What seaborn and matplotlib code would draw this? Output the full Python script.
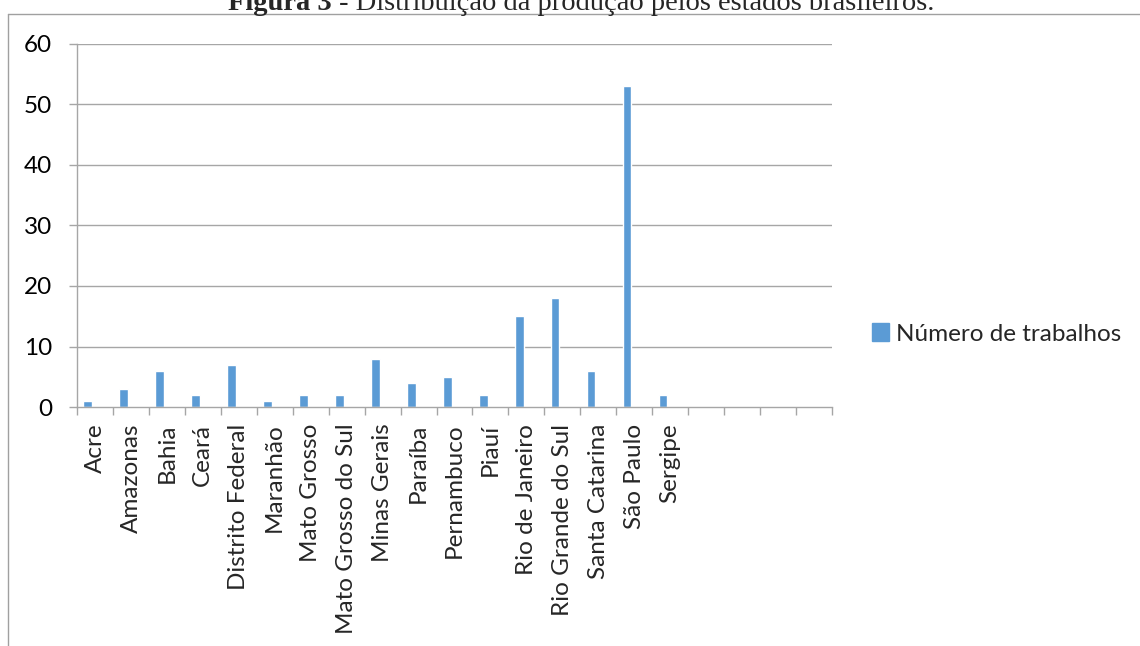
import matplotlib
matplotlib.use('Agg')
import matplotlib.pyplot as plt
import seaborn as sns
import pandas as pd
from matplotlib.lines import Line2D

sns.set_theme(style="white")
plt.rcParams['font.family'] = ['Lato', 'DejaVu Sans']

# data
estados = ['Acre', 'Amazonas', 'Bahia', 'Ceará', 'Distrito Federal', 'Maranhão',
           'Mato Grosso', 'Mato Grosso do Sul', 'Minas Gerais', 'Paraíba',
           'Pernambuco', 'Piauí', 'Rio de Janeiro', 'Rio Grande do Sul',
           'Santa Catarina', 'São Paulo', 'Sergipe']
trabalhos = [1, 3, 6, 2, 7, 1, 2, 2, 8, 4, 5, 2, 15, 18, 6, 53, 2]
n_slots = 21  # excel range has 4 empty rows at the end
serie = 'Número de trabalhos'
cor = '#5B9BD5'

df = pd.DataFrame({'estado': estados, 'valor': trabalhos})

fig = plt.figure(figsize=(11.4, 6.46), dpi=100)
W, H = 1140, 646
ax = fig.add_axes([77 / W, 1 - 407 / H, (832 - 77) / W, (407 - 44) / H])

sns.barplot(data=df, x='estado', y='valor', order=estados, color=cor,
            width=0.24, saturation=1, ax=ax, label=serie)
# bars sit to the left of the slot centre (clustered chart layout)
for p in ax.patches:
    p.set_x(p.get_x() - 0.2)

ax.set_xlim(-0.5, n_slots - 0.5)
ax.set_ylim(0, 60)
ax.set_xlabel('')
ax.set_ylabel('')

fs = 17.5
grid_c = '#a6a6a6'
ax.set_yticks(range(0, 61, 10))
for y in range(10, 61, 10):
    ax.axhline(y, color=grid_c, lw=1, zorder=0)
ax.tick_params(axis='y', length=6, width=1, color=grid_c, direction='out',
               labelsize=fs, pad=12, labelcolor='black', left=True)

# tick marks between categories, labels at centres
ax.set_xticks([i - 0.5 for i in range(n_slots + 1)])
ax.set_xticklabels([])
ax.tick_params(axis='x', which='major', length=6, width=1, color=grid_c,
               direction='out', bottom=True)
ax.set_xticks(range(len(estados)), minor=True)
ax.set_xticklabels(estados, minor=True, rotation=90, fontsize=fs)
ax.tick_params(axis='x', which='minor', length=0, pad=12)

for s in ['top', 'right']:
    ax.spines[s].set_visible(False)
for s in ['left', 'bottom']:
    ax.spines[s].set_color(grid_c)
    ax.spines[s].set_linewidth(1)

leg_handle = plt.Rectangle((0, 0), 1, 1, color=cor)
fig.legend([leg_handle], [serie], loc='center left',
           bbox_to_anchor=(872 / W, 1 - 334 / H), frameon=False,
           fontsize=fs, handlelength=0.7, handleheight=0.7,
           handletextpad=0.3, borderaxespad=0, borderpad=0)
if ax.get_legend() is not None:
    ax.get_legend().remove()

# chart area border (cut off at right and bottom in the reference)
fig.add_artist(Line2D([8 / W, 8 / W], [0, 1 - 14 / H], color='#a0a0a0', lw=1))
fig.add_artist(Line2D([8 / W, 1], [1 - 14 / H, 1 - 14 / H], color='#a0a0a0', lw=1))

# title, partly clipped at the top
fig.canvas.draw()
r = fig.canvas.get_renderer()
t_y = 1 - 3 / H
t1 = fig.text(0, t_y, 'Figura 3', fontsize=20.5, fontweight='bold',
              family=['Liberation Serif'], va='center', ha='left')
t2 = fig.text(0, t_y, ' - Distribuição da produção pelos estados brasileiros.',
              fontsize=20.5, family=['Liberation Serif'], va='center', ha='left')
w1 = t1.get_window_extent(r).width
w2 = t2.get_window_extent(r).width
x0 = 581 - (w1 + w2) / 2
t1.set_x(x0 / W)
t2.set_x((x0 + w1) / W)

fig.savefig('out.png', dpi=100)
